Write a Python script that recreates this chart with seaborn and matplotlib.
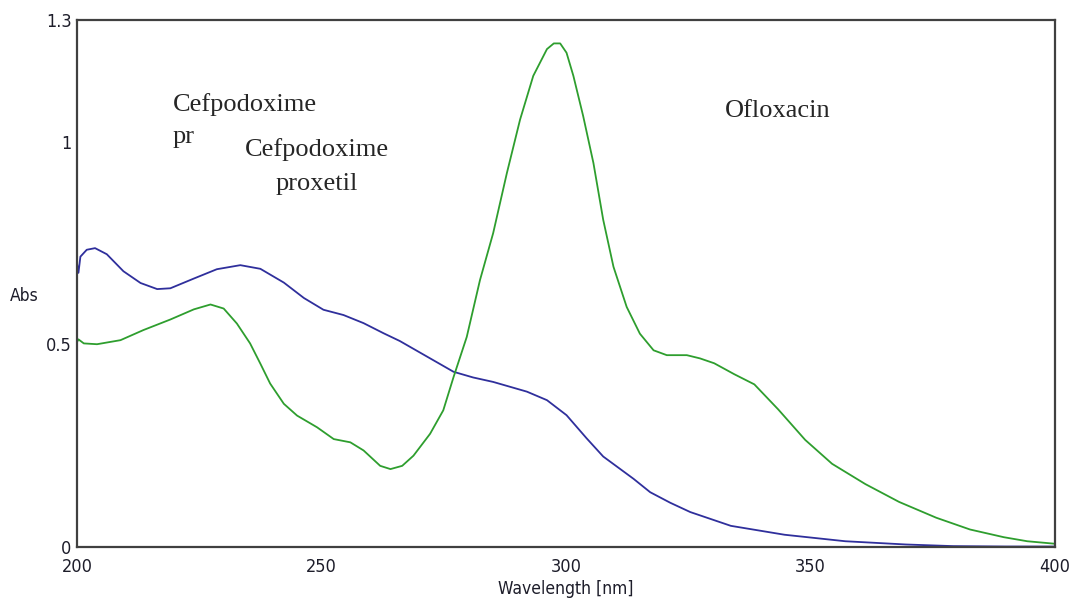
import numpy as np
import pandas as pd
import matplotlib.pyplot as plt
import seaborn as sns

# ========== DATA ==========
wl_cef = [200.0, 200.3, 200.7, 202.0, 203.7, 206.1, 209.5, 213.0, 216.4, 219.1,
          223.9, 228.6, 233.4, 237.5, 242.3, 246.4, 250.4, 254.5, 258.6, 262.7,
          266.0, 271.5, 277.0, 281.0, 285.1, 292.0, 296.1, 300.1, 304.2, 307.6,
          313.8, 317.2, 321.3, 325.4, 333.7, 344.7, 357.1, 369.5, 379.1, 390.0, 400.0]
abs_cef = [0.700, 0.676, 0.716, 0.733, 0.737, 0.722, 0.680, 0.651, 0.636, 0.638,
           0.662, 0.685, 0.695, 0.686, 0.652, 0.614, 0.585, 0.572, 0.552, 0.527,
           0.508, 0.470, 0.432, 0.418, 0.407, 0.383, 0.362, 0.325, 0.268, 0.223,
           0.168, 0.135, 0.109, 0.086, 0.052, 0.030, 0.014, 0.006, 0.002, 0.001, 0.001]

wl_oflx = [200.0, 200.3, 201.4, 204.1, 208.9, 213.6, 219.1, 223.9, 227.3, 230.0,
           232.7, 235.4, 237.5, 239.5, 242.3, 245.0, 249.1, 252.5, 255.9, 258.6,
           262.0, 264.1, 266.5, 268.8, 272.2, 274.9, 277.0, 279.7, 282.4, 285.1,
           287.9, 290.6, 293.3, 296.1, 297.5, 298.8, 300.1, 301.5, 303.5, 305.6,
           307.6, 309.7, 312.4, 315.1, 317.9, 320.6, 324.7, 327.4, 330.3, 334.4,
           338.5, 343.4, 348.9, 354.4, 361.2, 368.1, 375.7, 382.6, 389.5, 394.3, 399.8]
abs_oflx = [0.505, 0.512, 0.502, 0.500, 0.510, 0.535, 0.561, 0.586, 0.598, 0.588,
            0.551, 0.502, 0.452, 0.403, 0.353, 0.324, 0.295, 0.266, 0.258, 0.238,
            0.200, 0.192, 0.200, 0.225, 0.279, 0.337, 0.419, 0.518, 0.658, 0.774,
            0.922, 1.054, 1.162, 1.228, 1.242, 1.242, 1.219, 1.162, 1.063, 0.947,
            0.807, 0.691, 0.592, 0.526, 0.485, 0.473, 0.473, 0.465, 0.453, 0.426,
            0.401, 0.339, 0.264, 0.205, 0.155, 0.111, 0.072, 0.043, 0.024, 0.014, 0.008]

x_ticks = [200, 250, 300, 350, 400]
y_ticks = [0, 0.5, 1, 1.3]
y_tick_labels = ['0', '0.5', '1', '1.3']

df = pd.concat([
    pd.DataFrame({'Wavelength': wl_cef, 'Abs': abs_cef, 'Drug': 'Cefpodoxime proxetil'}),
    pd.DataFrame({'Wavelength': wl_oflx, 'Abs': abs_oflx, 'Drug': 'Ofloxacin'}),
], ignore_index=True)

# ========== STYLE ==========
sns.set_style('white')
plt.rcParams['font.family'] = ['Liberation Sans Narrow', 'DejaVu Sans']
plt.rcParams['font.stretch'] = 'condensed'

fig = plt.figure(figsize=(10.69, 6.03), dpi=100)
ax = fig.add_axes([0.072, 0.093, 0.915, 0.874])

sns.lineplot(data=df, x='Wavelength', y='Abs', hue='Drug', sort=False,
             palette={'Cefpodoxime proxetil': '#2F2F9C', 'Ofloxacin': '#2E9E2E'},
             linewidth=1.3, legend=False, ax=ax)

ax.set_xlim(200, 400)
ax.set_ylim(0, 1.3)
ax.set_xticks(x_ticks)
ax.set_xticks([225, 275, 325, 375], minor=True)
ax.set_yticks(y_ticks)
ax.set_yticklabels(y_tick_labels)
ax.set_yticks([0.25, 0.75, 1.25], minor=True)
ax.tick_params(which='major', direction='in', length=9, width=1.2,
               labelsize=13, colors='#303030', labelcolor='#1d1d2a')
ax.tick_params(axis='x', which='major', pad=8)
ax.tick_params(axis='y', which='major', pad=4)
ax.tick_params(which='minor', direction='in', length=6, width=1.2, colors='#303030')

for s in ax.spines.values():
    s.set_color('#404040')
    s.set_linewidth(1.6)

ax.set_xlabel('Wavelength [nm]', fontsize=12.5, color='#1d1d2a', labelpad=3)
ax.set_ylabel('Abs', fontsize=12.5, color='#1d1d2a', rotation=0, va='center', ha='left')
ax.yaxis.set_label_coords(-0.069, 0.476)

# annotations
serif = ['Liberation Serif', 'DejaVu Serif']
ax.text(0.098, 0.861, 'Cefpodoxime\npr', transform=ax.transAxes, ha='left', va='top',
        fontsize=19, family=serif, linespacing=1.6)
ax.text(0.245, 0.775, 'Cefpodoxime\nproxetil', transform=ax.transAxes, ha='center', va='top',
        fontsize=19, family=serif, linespacing=1.65, multialignment='center')
ax.text(0.662, 0.848, 'Ofloxacin', transform=ax.transAxes, ha='left', va='top',
        fontsize=19, family=serif)

fig.savefig('out.png', dpi=100, facecolor='white')
